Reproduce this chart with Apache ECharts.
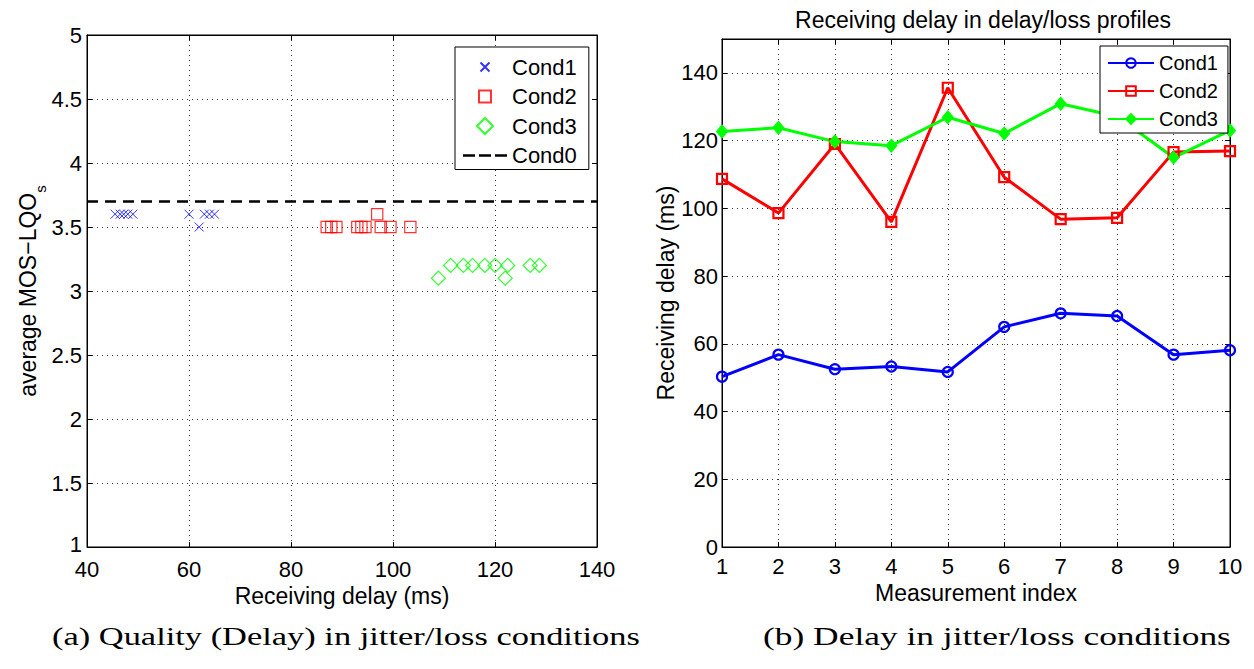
<!DOCTYPE html>
<html><head><meta charset="utf-8">
<script src="https://cdn.jsdelivr.net/npm/echarts@6/dist/echarts.min.js"></script>
<style>html,body{margin:0;padding:0;background:#fff}#c{width:1254px;height:669px}</style>
</head><body><div id="c"></div>
<script>
// ---- Left panel data: receiving delay (ms) vs average MOS-LQOs ----
const cond1Delay = [45.5, 46.5, 47.2, 48, 49, 60, 62, 63, 64, 65];
const cond1Mos   = [3.6, 3.6, 3.6, 3.6, 3.6, 3.6, 3.5, 3.6, 3.6, 3.6];
const cond2Delay = [87, 87.9, 88.9, 93, 93.8, 94.6, 96.9, 97.6, 99.5, 103.4];
const cond2Mos   = [3.5, 3.5, 3.5, 3.5, 3.5, 3.5, 3.6, 3.5, 3.5, 3.5];
const cond3Delay = [108.9, 111.3, 113.8, 115.6, 118.0, 120.0, 122.0, 122.5, 126.9, 128.7];
const cond3Mos   = [3.1, 3.2, 3.2, 3.2, 3.2, 3.2, 3.1, 3.2, 3.2, 3.2];
const cond0Delay = [40, 140];
const cond0Mos   = [3.7, 3.7];

// ---- Right panel data: receiving delay per measurement ----
const measurementIndex = [1, 2, 3, 4, 5, 6, 7, 8, 9, 10];
const delayCond1 = [50.3, 56.8, 52.5, 53.3, 51.7, 65.0, 69.0, 68.2, 56.8, 58.1];
const delayCond2 = [108.7, 98.6, 119.0, 96.0, 135.6, 109.2, 96.8, 97.2, 116.6, 116.9];
const delayCond3 = [122.7, 123.8, 119.7, 118.5, 126.9, 122.1, 130.9, 127.1, 115.0, 123.0];

const leftLegendNames = ['Cond1', 'Cond2', 'Cond3', 'Cond0'];
const rightLegendNames = ['Cond1', 'Cond2', 'Cond3'];
const captionA = '(a) Quality (Delay) in jitter/loss conditions';
const captionB = '(b) Delay in jitter/loss conditions';

const zip = (a, b) => a.map((v, i) => [v, b[i]]);
const FONT = 'Liberation Sans, Arial, Helvetica, sans-serif';
const SERIF = 'Liberation Serif';
const CAP_SIZE = 26;

const gridLine = { show: true, lineStyle: { color: '#333', width: 1, type: [1, 4] } };
const tickIn = { show: true, inside: true, length: 5, lineStyle: { color: '#000' } };
const axLine = { show: true, onZero: false, lineStyle: { color: '#000', width: 1 } };
const lbl = { color: '#000', fontSize: 22, fontFamily: FONT };

function mainX(grid, min, max, interval, name, gap, margin) {
  return { type: 'value', gridIndex: grid, position: 'bottom', min, max, interval,
    axisLine: axLine, axisTick: tickIn, axisLabel: Object.assign({ margin }, lbl),
    splitLine: gridLine, name, nameLocation: 'middle', nameGap: gap,
    nameTextStyle: { color: '#000', fontSize: 23, fontFamily: FONT } };
}
function mirrorX(grid, min, max, interval) {
  return { type: 'value', gridIndex: grid, position: 'top', min, max, interval,
    axisLine: axLine, axisTick: tickIn, axisLabel: { show: false }, splitLine: { show: false } };
}
function mirrorY(grid, min, max, interval) {
  return { type: 'value', gridIndex: grid, position: 'right', min, max, interval,
    axisLine: axLine, axisTick: tickIn, axisLabel: { show: false }, splitLine: { show: false } };
}

// path symbols (with invisible bounding moves so legend icons keep marker proportions)
const X_PATH = 'path://M0,0M16,16M3.5,3.5L12.5,12.5M12.5,3.5L3.5,12.5';
const SQ_PATH = 'path://M0,0M16,16M2,2H14V14H2Z';
const DIA_PATH = 'path://M8,0L16,8L8,16L0,8Z';
const DASH_ICON = 'path://M0,0H12V2.5H0Z M16,0H28V2.5H16Z M32,0H44V2.5H32Z';

function measure(text, size, family) {
  const ctx = document.createElement('canvas').getContext('2d');
  ctx.font = size + 'px "' + family + '"';
  return ctx.measureText(text).width;
}
const scaleA = 588 / measure(captionA, CAP_SIZE, SERIF);
const scaleB = 468 / measure(captionB, CAP_SIZE, SERIF);

const option = {
  animation: false,
  backgroundColor: '#fff',
  title: {
    text: 'Receiving delay in delay/loss profiles',
    left: 978, top: 3, textAlign: 'center',
    textStyle: { fontSize: 23, fontWeight: 'normal', color: '#000', fontFamily: FONT }
  },
  grid: [
    { left: 87, top: 35, width: 510, height: 512, show: true, borderColor: '#000', borderWidth: 1 },
    { left: 722, top: 39, width: 508, height: 508, show: true, borderColor: '#000', borderWidth: 1 }
  ],
  xAxis: [
    mainX(0, 40, 140, 20, 'Receiving delay (ms)', 33, 11),
    mirrorX(0, 40, 140, 20),
    mainX(1, 1, 10, 1, 'Measurement index', 29, 8),
    mirrorX(1, 1, 10, 1)
  ],
  yAxis: [
    { type: 'value', gridIndex: 0, position: 'left', min: 1, max: 5, interval: 0.5,
      axisLine: axLine, axisTick: tickIn,
      axisLabel: Object.assign({ margin: 5,
        formatter: v => v === 1 ? '{lo|1}' : String(v),
        rich: { lo: { fontSize: 22, fontFamily: FONT, color: '#000', padding: [0, 0, 6, 0] } } }, lbl),
      splitLine: gridLine,
      name: 'average MOS\u2212LQO{s|s}', nameLocation: 'middle', nameGap: 47,
      nameTextStyle: { color: '#000', fontSize: 23, fontFamily: FONT,
        rich: { s: { fontSize: 15, color: '#000', fontFamily: FONT, verticalAlign: 'bottom', padding: [0, 0, -8, 0] } } } },
    mirrorY(0, 1, 5, 0.5),
    { type: 'value', gridIndex: 1, position: 'left', min: 0, max: 150, interval: 20,
      axisLine: axLine, axisTick: tickIn,
      axisLabel: Object.assign({ margin: 4, showMaxLabel: false }, lbl),
      splitLine: gridLine,
      name: 'Receiving delay (ms)', nameLocation: 'middle', nameGap: 42,
      nameTextStyle: { color: '#000', fontSize: 23, fontFamily: FONT } },
    mirrorY(1, 0, 150, 20)
  ],
  legend: [
    { orient: 'vertical', left: 455, top: 47,
      data: leftLegendNames.map(n => n === 'Cond0' ? { name: n, icon: DASH_ICON } : n),
      backgroundColor: '#fff', borderColor: '#000', borderWidth: 1,
      padding: [9, 12, 3, 8], itemGap: 7.5, itemWidth: 44, itemHeight: 16,
      textStyle: { fontSize: 22, lineHeight: 22, color: '#000', fontFamily: FONT } },
    { orient: 'vertical', left: 1100, top: 46, data: rightLegendNames.map(n => 'B-' + n),
      formatter: n => n.replace('B-', ''),
      backgroundColor: '#fff', borderColor: '#000', borderWidth: 1,
      padding: [7, 10, 4, 7], itemGap: 8, itemWidth: 46, itemHeight: 12,
      textStyle: { fontSize: 20, lineHeight: 20, color: '#000', fontFamily: FONT } }
  ],
  series: [
    { name: 'Cond1', type: 'scatter', xAxisIndex: 0, yAxisIndex: 0,
      data: zip(cond1Delay, cond1Mos), symbol: X_PATH, symbolSize: 16,
      itemStyle: { color: 'rgba(0,0,0,0)', borderColor: '#0000ff', borderWidth: 1 } },
    { name: 'Cond2', type: 'scatter', xAxisIndex: 0, yAxisIndex: 0,
      data: zip(cond2Delay, cond2Mos), symbol: SQ_PATH, symbolSize: 15,
      itemStyle: { color: 'rgba(0,0,0,0)', borderColor: '#ff0000', borderWidth: 1.2 } },
    { name: 'Cond3', type: 'scatter', xAxisIndex: 0, yAxisIndex: 0,
      data: zip(cond3Delay, cond3Mos), symbol: DIA_PATH, symbolSize: 14,
      itemStyle: { color: 'rgba(0,0,0,0)', borderColor: '#00ff00', borderWidth: 1.2 } },
    { name: 'Cond0', type: 'line', xAxisIndex: 0, yAxisIndex: 0,
      data: zip(cond0Delay, cond0Mos), symbol: 'none',
      lineStyle: { color: '#000', width: 2.5, type: [11, 7] },
      itemStyle: { color: '#000' } },

    { name: 'B-Cond1', type: 'line', xAxisIndex: 2, yAxisIndex: 2,
      data: zip(measurementIndex, delayCond1), symbol: 'circle', symbolSize: 10,
      lineStyle: { color: '#0000ff', width: 3 },
      itemStyle: { color: 'rgba(0,0,0,0)', borderColor: '#0000ff', borderWidth: 2.2 } },
    { name: 'B-Cond2', type: 'line', xAxisIndex: 2, yAxisIndex: 2,
      data: zip(measurementIndex, delayCond2), symbol: 'rect', symbolSize: 10,
      lineStyle: { color: '#ff0000', width: 3 },
      itemStyle: { color: 'rgba(0,0,0,0)', borderColor: '#ff0000', borderWidth: 2.2 } },
    { name: 'B-Cond3', type: 'line', xAxisIndex: 2, yAxisIndex: 2,
      data: zip(measurementIndex, delayCond3), symbol: 'diamond', symbolSize: [11, 13],
      lineStyle: { color: '#00ff00', width: 3 },
      itemStyle: { color: '#00ff00', borderColor: '#00ff00', borderWidth: 1 } }
  ],
  graphic: [
    { type: 'text', x: 52, y: 623, scaleX: scaleA,
      style: { text: captionA, fontSize: CAP_SIZE, fontFamily: SERIF, fill: '#000', textVerticalAlign: 'top' } },
    { type: 'text', x: 763, y: 623, scaleX: scaleB,
      style: { text: captionB, fontSize: CAP_SIZE, fontFamily: SERIF, fill: '#000', textVerticalAlign: 'top' } }
  ]
};

const chart = echarts.init(document.getElementById('c'), null, { renderer: 'svg' });
chart.setOption(option);
</script>
</body></html>
